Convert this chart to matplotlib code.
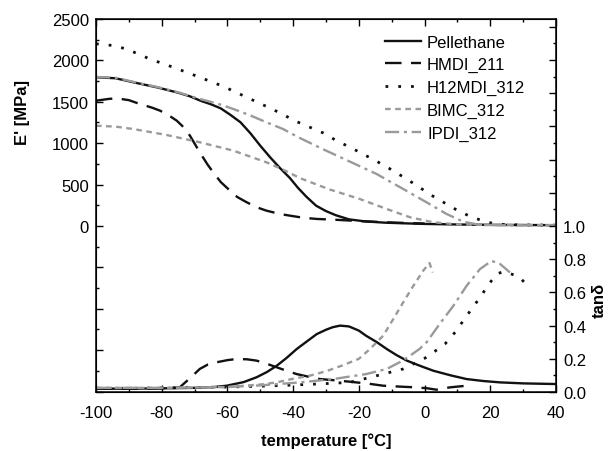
import matplotlib
matplotlib.use("Agg")
import matplotlib.pyplot as plt
from matplotlib.ticker import FixedLocator, FuncFormatter, MultipleLocator

plt.rcParams['font.family'] = ['Liberation Sans', 'DejaVu Sans']
plt.rcParams['axes.unicode_minus'] = False

# ---- storage modulus E' [MPa] ----
pel_T = [-100, -94, -88, -81.5, -75, -71.4, -68, -65, -62, -59, -56, -53, -50, -47, -44, -41, -38.5, -36, -33, -30, -27, -23, -18, -12, -6, 0, 10, 20, 30, 40]
pel_E = [1796, 1784, 1730, 1675, 1610, 1566, 1510, 1470, 1420, 1340, 1252, 1120, 970, 830, 700, 580, 460, 355, 245, 180, 130, 80, 55, 40, 32, 25, 18, 14, 12, 10]

hmdi_T = [-100, -96, -93.7, -90, -86.6, -83, -80.5, -78, -75.4, -73, -71.4, -68.4, -66, -64.3, -62, -59.2, -57, -54.1, -51, -48.1, -44, -41, -37, -32.8, -27, -20, -12, -5, 0]
hmdi_E = [1513, 1535, 1542, 1520, 1473, 1430, 1393, 1340, 1272, 1180, 1091, 890, 740, 648, 530, 427, 350, 286, 225, 185, 145, 125, 100, 85, 75, 60, 45, 35, 30]

h12_T = [-100, -95, -90.7, -83.6, -76.5, -68.4, -61.3, -54.1, -46, -38.9, -30.8, -27.3, -19.7, -12.1, -5, 2.6, 9.8, 13.8, 18.4, 22.3, 30, 40]
h12_E = [2200, 2180, 2138, 2017, 1917, 1796, 1687, 1554, 1405, 1260, 1123, 1042, 890, 728, 556, 359, 193, 117, 52, 20, 12, 10]

bimc_T = [-100, -94, -88.6, -78.5, -68.4, -58.2, -48.1, -43, -37.9, -28.8, -19.7, -11.5, -4.4, 2.6, 9.8, 20, 30, 40]
bimc_E = [1211, 1200, 1171, 1099, 1011, 910, 769, 680, 578, 440, 326, 205, 105, 45, 20, 12, 10, 10]

ipdi_T = [-100, -94, -88, -81.5, -75, -71.4, -68, -66.3, -62, -58.2, -53, -48.1, -43, -38.4, -30.5, -22.7, -14.6, -6.5, 0.6, 6.7, 11.8, 16.9, 25, 40]
ipdi_E = [1800, 1790, 1735, 1680, 1615, 1570, 1530, 1513, 1465, 1413, 1335, 1252, 1170, 1071, 920, 777, 628, 447, 286, 145, 52, 12, 8, 8]

# ---- loss factor tan delta ----
pel_tT = [-100, -90, -80, -70, -64, -60.2, -55, -51.1, -48, -45, -42, -38.9, -35.8, -32.8, -30, -28, -25.7, -23, -20, -17.8, -14.5, -11.5, -8.5, -5.4, -1, 2.7, 8, 12.8, 18, 23, 30, 40]
pel_t = [0.02, 0.02, 0.022, 0.025, 0.03, 0.038, 0.06, 0.089, 0.12, 0.158, 0.205, 0.259, 0.305, 0.349, 0.375, 0.39, 0.4, 0.395, 0.37, 0.339, 0.3, 0.259, 0.222, 0.189, 0.155, 0.128, 0.1, 0.078, 0.066, 0.058, 0.052, 0.048]

hmdi_tT = [-100, -90, -80, -76, -74.4, -71, -68.4, -66, -63.3, -60, -57.2, -54, -51.1, -48, -45, -42, -38.9, -34.8, -31.8, -27, -22.7, -17, -12.6, -7, -2.5, 1, 3.6, 7.7, 12.8]
hmdi_t = [0.02, 0.02, 0.022, 0.025, 0.03, 0.09, 0.139, 0.165, 0.179, 0.192, 0.199, 0.197, 0.189, 0.17, 0.149, 0.128, 0.108, 0.09, 0.078, 0.07, 0.062, 0.05, 0.038, 0.032, 0.028, 0.022, 0.014, 0.028, 0.038]

h12_tT = [-100, -90, -80, -70, -60, -50, -40, -32.8, -22.7, -14.6, -6.5, 0.6, 6.2, 9.3, 11.8, 14.3, 16.9, 19.4, 21.9, 24, 26.5, 29, 31.9]
h12_t = [0.02, 0.022, 0.025, 0.027, 0.03, 0.035, 0.042, 0.048, 0.058, 0.098, 0.139, 0.209, 0.289, 0.36, 0.43, 0.5, 0.57, 0.645, 0.711, 0.725, 0.71, 0.69, 0.627]

bimc_tT = [-100, -90, -80, -70, -60, -50, -45, -40, -35, -30, -25, -20, -16.6, -12.6, -9.5, -6.5, -3.4, -0.4, 1.5, 2.5]
bimc_t = [0.025, 0.025, 0.025, 0.027, 0.03, 0.045, 0.058, 0.08, 0.098, 0.125, 0.16, 0.2, 0.259, 0.339, 0.44, 0.54, 0.64, 0.731, 0.777, 0.72]

ipdi_tT = [-100, -90, -80, -70, -60, -50, -37.9, -27.8, -17.8, -11.5, -7.5, -4.4, -1.5, 0.6, 4.6, 8.8, 12.8, 16.9, 20.4, 23, 26]
ipdi_t = [0.025, 0.025, 0.025, 0.027, 0.03, 0.04, 0.058, 0.078, 0.108, 0.139, 0.18, 0.219, 0.26, 0.299, 0.41, 0.52, 0.64, 0.741, 0.79, 0.771, 0.72]

labels = ["Pellethane", "HMDI_211", "H12MDI_312", "BIMC_312", "IPDI_312"]
x_ticks = [-100, -80, -60, -40, -20, 0, 20, 40]

black = "#111111"
gray = "#9a9a9a"
styles = [
    dict(color=black, lw=1.7, ls="-"),
    dict(color=black, lw=1.7, ls=(0, (7, 4))),
    dict(color=black, lw=2.0, ls=(0, (1, 3.6))),
    dict(color=gray, lw=1.7, ls=(0, (2.4, 1.9))),
    dict(color=gray, lw=1.7, ls=(0, (6, 2, 1.3, 2))),
]

fig = plt.figure(figsize=(6.11, 4.52), dpi=100)
ax = fig.add_axes([0.157, 0.1305, 0.753, 0.8253])
ax2 = ax.twinx()

E_sets = [(pel_T, pel_E), (hmdi_T, hmdi_E), (h12_T, h12_E), (bimc_T, bimc_E), (ipdi_T, ipdi_E)]
t_sets = [(pel_tT, pel_t), (hmdi_tT, hmdi_t), (h12_tT, h12_t), (bimc_tT, bimc_t), (ipdi_tT, ipdi_t)]

handles = []
for (T, E), st, lab in zip(E_sets, styles, labels):
    h, = ax.plot(T, E, label=lab, **st)
    handles.append(h)
for (T, t), st in zip(t_sets, styles):
    ax2.plot(T, t, **st)

ax.set_xlim(-100, 40)
ax.set_ylim(-2005, 2500)
ax2.set_ylim(0, 2.247)

ax.set_xticks(x_ticks)
ax.xaxis.set_minor_locator(MultipleLocator(10))
ax.yaxis.set_major_locator(FixedLocator(list(range(-2000, 2501, 500))))
ax.yaxis.set_minor_locator(FixedLocator(list(range(-1750, 2500, 500))))
ax.yaxis.set_major_formatter(FuncFormatter(lambda v, p: f"{int(v)}" if v >= 0 else ""))
ax2.yaxis.set_major_locator(FixedLocator([i * 0.2 for i in range(12)]))
ax2.yaxis.set_minor_locator(FixedLocator([0.1 + i * 0.2 for i in range(11)]))
ax2.yaxis.set_major_formatter(FuncFormatter(lambda v, p: f"{v:.1f}" if v <= 1.001 else ""))

for a in (ax, ax2):
    a.tick_params(which="major", direction="in", length=5, width=1, labelsize=12, pad=5)
    a.tick_params(which="minor", direction="in", length=2.5, width=1)
ax.tick_params(axis="x", which="major", pad=9)
ax.tick_params(which="both", top=True)
for s in ax.spines.values():
    s.set_linewidth(1.1)

ax.set_xlabel("temperature [°C]", fontsize=12, fontweight="bold", labelpad=9)
ax.set_ylabel("E' [MPa]", fontsize=12, fontweight="bold")
ax.yaxis.set_label_coords(-0.143, 0.753)
ax2.set_ylabel("tanδ", fontsize=12, fontweight="bold", rotation=90)
ax2.yaxis.set_label_coords(1.078, 0.247)

leg = ax.legend(handles=handles, loc="upper right", bbox_to_anchor=(0.955, 0.985), frameon=False,
                fontsize=12, handlelength=2.2, handletextpad=0.35, labelspacing=0.46, borderaxespad=0.2)

fig.savefig("out.png", dpi=100)
